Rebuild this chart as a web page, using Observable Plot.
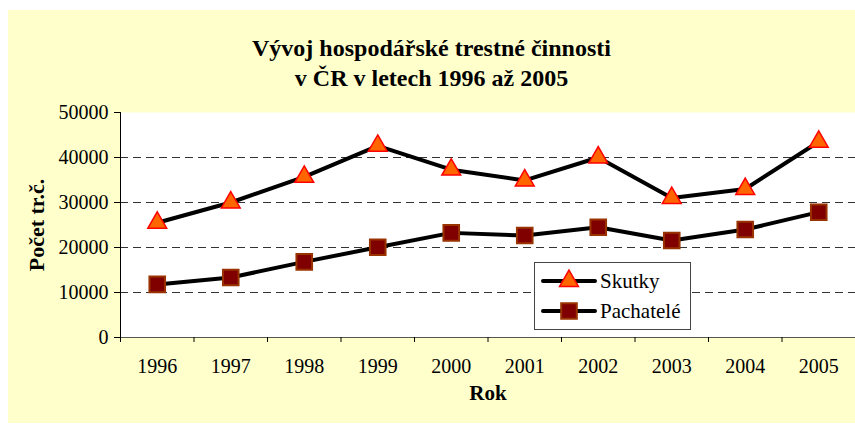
<!DOCTYPE html>
<html>
<head>
<meta charset="utf-8">
<script src="https://cdn.jsdelivr.net/npm/d3@7"></script>
<script src="https://cdn.jsdelivr.net/npm/@observablehq/plot@0.6"></script>
<style>
  html, body { margin: 0; padding: 0; background: #ffffff; }
  #wrap { position: relative; width: 855px; height: 424px; overflow: hidden; font-family: 'Liberation Serif', 'Times New Roman', serif; }
  #bg { position: absolute; left: 8px; top: 10px; width: 847px; height: 413px; background: #FFFFCC; }
  #chart { position: absolute; left: 0; top: 0; }
  #title { position: absolute; left: 8px; width: 847px; top: 33px; text-align: center; font-weight: bold; font-size: 24px; line-height: 30px; color: #000; }
  #legend { position: absolute; left: 534px; top: 262px; }
</style>
</head>
<body>
<div id="wrap">
  <div id="bg"></div>
  <div id="chart"></div>
  <div id="title"></div>
  <div id="legend"></div>
</div>
<script>
const years = [1996, 1997, 1998, 1999, 2000, 2001, 2002, 2003, 2004, 2005];
const skutky = [25500, 30000, 35700, 42600, 37300, 34900, 40000, 31000, 33000, 43500];
const pachatele = [11800, 13350, 16800, 20050, 23250, 22650, 24500, 21550, 24000, 27850];
const yTicks = [0, 10000, 20000, 30000, 40000, 50000];
const gridValues = [10000, 20000, 30000, 40000];
const seriesNames = ["Skutky", "Pachatelé"];
const titleText = ["Vývoj hospodářské trestné činnosti", "v ČR v letech 1996 až 2005"];
const xTitle = "Rok";
const yTitle = "Počet tr.č.";

const FONT = "'Liberation Serif', 'Times New Roman', serif";
d3.select("#title").html(titleText.join("<br>"));

const skData = years.map((year, i) => ({year, value: skutky[i]}));
const paData = years.map((year, i) => ({year, value: pachatele[i]}));
const boundaries = [...years.map(y => y - 0.5), years[years.length - 1] + 0.5];

const triStyle = {fill: "#FF6600", stroke: "#FF0000", strokeWidth: 1.5};
const sqStyle = {fill: "#800000", stroke: "#993300", strokeWidth: 2};

const chart = Plot.plot({
  width: 855,
  height: 424,
  marginLeft: 120,
  marginRight: 0,
  marginTop: 112,
  marginBottom: 87,
  style: {background: "transparent", fontFamily: FONT, fontSize: "20px", color: "#000", overflow: "visible"},
  x: {type: "linear", domain: [boundaries[0], boundaries[boundaries.length - 1]]},
  y: {domain: [0, 50000]},
  marks: [
    Plot.frame({fill: "white", stroke: null}),
    Plot.ruleY(gridValues, {stroke: "#333", strokeWidth: 1, strokeDasharray: "8,5"}),
    Plot.ruleY([0], {stroke: "#555", strokeWidth: 1}),
    Plot.ruleX([boundaries[0]], {stroke: "#000", strokeWidth: 1}),
    Plot.axisY({ticks: yTicks, tickFormat: d => String(d), tickSize: 6, tickPadding: 6, label: null}),
    Plot.axisX({ticks: boundaries, tickFormat: () => "", tickSize: 5, label: null}),
    Plot.axisX({ticks: years, tickFormat: d => String(d), tickSize: 0, tickPadding: 21, label: null}),
    Plot.line(skData, {x: "year", y: "value", stroke: "#000", strokeWidth: 4, strokeLinejoin: "round"}),
    Plot.line(paData, {x: "year", y: "value", stroke: "#000", strokeWidth: 4, strokeLinejoin: "round"}),
    Plot.dot(skData, {x: "year", y: "value", symbol: "triangle", r: 7, ...triStyle}),
    Plot.dot(paData, {x: "year", y: "value", symbol: "square", r: 8.8, ...sqStyle}),
    Plot.text([xTitle], {frameAnchor: "bottom", dy: 62, fontWeight: "bold", fontSize: 21}),
    Plot.text([yTitle], {frameAnchor: "left", textAnchor: "middle", dx: -84, rotate: -90, fontWeight: "bold", fontSize: 22})
  ]
});
document.getElementById("chart").appendChild(chart);

// Legend
const lw = 157, lh = 68;
const leg = d3.select("#legend").append("svg").attr("width", lw).attr("height", lh);
leg.append("rect").attr("x", 0.5).attr("y", 0.5).attr("width", lw - 1).attr("height", lh - 1)
  .attr("fill", "white").attr("stroke", "#444").attr("stroke-width", 1);
const rows = [
  {name: seriesNames[0], y: 19, sym: d3.symbolTriangle, size: Math.PI * 7 * 7, st: triStyle},
  {name: seriesNames[1], y: 49, sym: d3.symbolSquare, size: Math.PI * 8.8 * 8.8, st: sqStyle}
];
for (const r of rows) {
  leg.append("line").attr("x1", 9).attr("x2", 61).attr("y1", r.y).attr("y2", r.y)
    .attr("stroke", "#000").attr("stroke-width", 4).attr("stroke-linecap", "round");
  leg.append("path").attr("d", d3.symbol(r.sym, r.size)()).attr("transform", `translate(35,${r.y})`)
    .attr("fill", r.st.fill).attr("stroke", r.st.stroke).attr("stroke-width", r.st.strokeWidth);
  leg.append("text").attr("x", 66).attr("y", r.y).attr("dy", "0.35em")
    .style("font-family", FONT).attr("font-size", 21).text(r.name);
}
</script>
</body>
</html>
